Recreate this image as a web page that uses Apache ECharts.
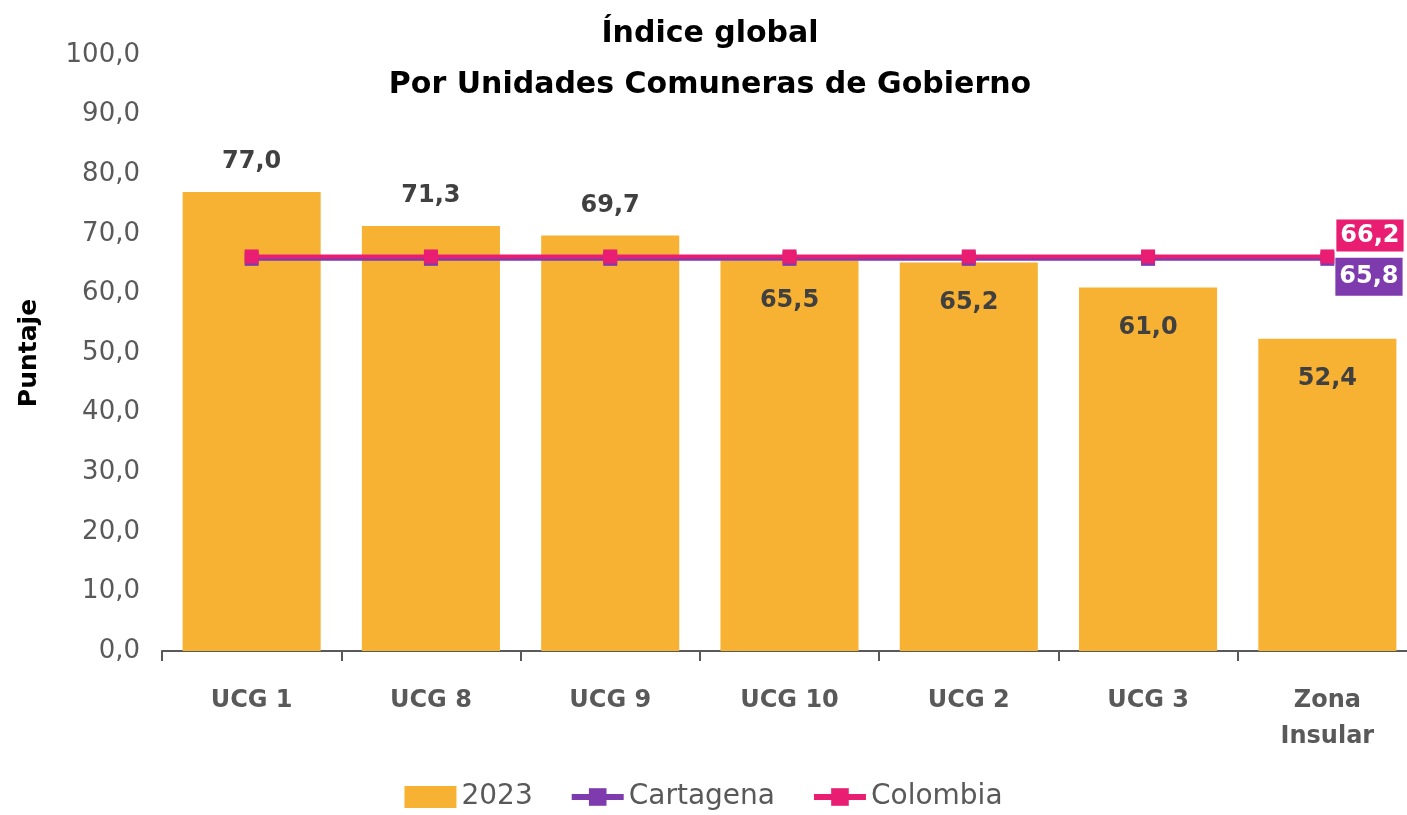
<!DOCTYPE html>
<html>
<head>
<meta charset="utf-8">
<script src="https://cdn.jsdelivr.net/npm/echarts@6/dist/echarts.min.js"></script>
<style>
  html, body { margin: 0; padding: 0; background: #fff; }
  #chart { width: 1407px; height: 815px; }
</style>
</head>
<body>
<div id="chart"></div>
<script>
const categories = ["UCG 1", "UCG 8", "UCG 9", "UCG 10", "UCG 2", "UCG 3", "Zona\nInsular"]
const values2023 = [77.0, 71.3, 69.7, 65.5, 65.2, 61.0, 52.4]
const cartagena = [65.8, 65.8, 65.8, 65.8, 65.8, 65.8, 65.8]
const colombia = [66.2, 66.2, 66.2, 66.2, 66.2, 66.2, 66.2]

const FONT = "'DejaVu Sans', sans-serif"
const fmt = v => v.toFixed(1).replace(".", ",")

const chart = echarts.init(document.getElementById("chart"))

// barras altas: etiqueta arriba; las demas dentro porque la linea las tapa
const barData = values2023.map((v, i) => ({
  value: v,
  label: i < 3
    ? { position: "top", distance: 18 }
    : { position: "insideTop", distance: 28 },
}))

function lineData(arr, labelOpt) {
  return arr.map((v, i) => i === arr.length - 1 ? { value: v, label: labelOpt } : v)
}

chart.setOption({
  animation: false,
  textStyle: { fontFamily: FONT },
  title: {
    text: "Índice global\nPor Unidades Comuneras de Gobierno",
    left: 705,
    textAlign: "center",
    top: 4,
    textStyle: { fontSize: 30, fontWeight: "bold", color: "#000", lineHeight: 51, fontFamily: FONT },
  },
  legend: {
    bottom: -1,
    left: "center",
    itemGap: 36,
    itemWidth: 52,
    itemHeight: 22,
    textStyle: { fontSize: 28, color: "#595959", fontFamily: FONT },
    data: [
      { name: "2023", icon: "rect", itemStyle: { color: "#F7B133" } },
      { name: "Cartagena", lineStyle: { width: 6 } },
      { name: "Colombia", lineStyle: { width: 6 } },
    ],
  },
  grid: { left: 162, top: 55, width: 1255, bottom: 164, outerBoundsMode: "none" },
  xAxis: {
    type: "category",
    data: categories,
    axisLine: { lineStyle: { color: "#595959", width: 2 } },
    axisTick: { show: true, length: 10, lineStyle: { color: "#595959", width: 2 } },
    axisLabel: { fontSize: 24, fontWeight: "bold", color: "#595959", margin: 32, lineHeight: 36, fontFamily: FONT },
  },
  yAxis: {
    type: "value",
    min: 0,
    max: 100,
    interval: 10,
    name: "Puntaje",
    nameLocation: "middle",
    nameGap: 120,
    nameRotate: 90,
    nameTextStyle: { fontSize: 25, fontWeight: "bold", color: "#000", fontFamily: FONT },
    splitLine: { show: false },
    axisLine: { show: false },
    axisTick: { show: false },
    axisLabel: { fontSize: 26, color: "#595959", margin: 22, formatter: v => fmt(v), fontFamily: FONT },
  },
  series: [
    {
      name: "2023",
      type: "bar",
      data: barData,
      barCategoryGap: "23%",
      itemStyle: { color: "#F7B133" },
      label: {
        show: true,
        fontSize: 24,
        fontWeight: "bold",
        color: "#404040",
        formatter: p => fmt(p.value),
        fontFamily: FONT,
      },
      z: 1,
    },
    {
      name: "Cartagena",
      type: "line",
      data: lineData(cartagena, {
        show: true,
        position: "right",
        offset: [-4, 18],
        formatter: p => fmt(p.value),
        backgroundColor: "#7E3BAE",
        color: "#fff",
        fontSize: 24,
        fontWeight: "bold",
        padding: [8, 4, 6, 4],
        fontFamily: FONT,
      }),
      color: "#7E3BAE",
      lineStyle: { width: 4, color: "#7E3BAE" },
      symbol: "rect",
      symbolSize: 14,
      itemStyle: { color: "#7E3BAE" },
      z: 3,
    },
    {
      name: "Colombia",
      type: "line",
      data: lineData(colombia, {
        show: true,
        position: "right",
        offset: [-3, -21],
        formatter: p => fmt(p.value),
        backgroundColor: "#E91E72",
        color: "#fff",
        fontSize: 24,
        fontWeight: "bold",
        padding: [5, 4, 3, 4],
        fontFamily: FONT,
      }),
      color: "#E91E72",
      lineStyle: { width: 4, color: "#E91E72" },
      symbol: "rect",
      symbolSize: 14,
      itemStyle: { color: "#E91E72" },
      z: 4,
    },
  ],
})
</script>
</body>
</html>
